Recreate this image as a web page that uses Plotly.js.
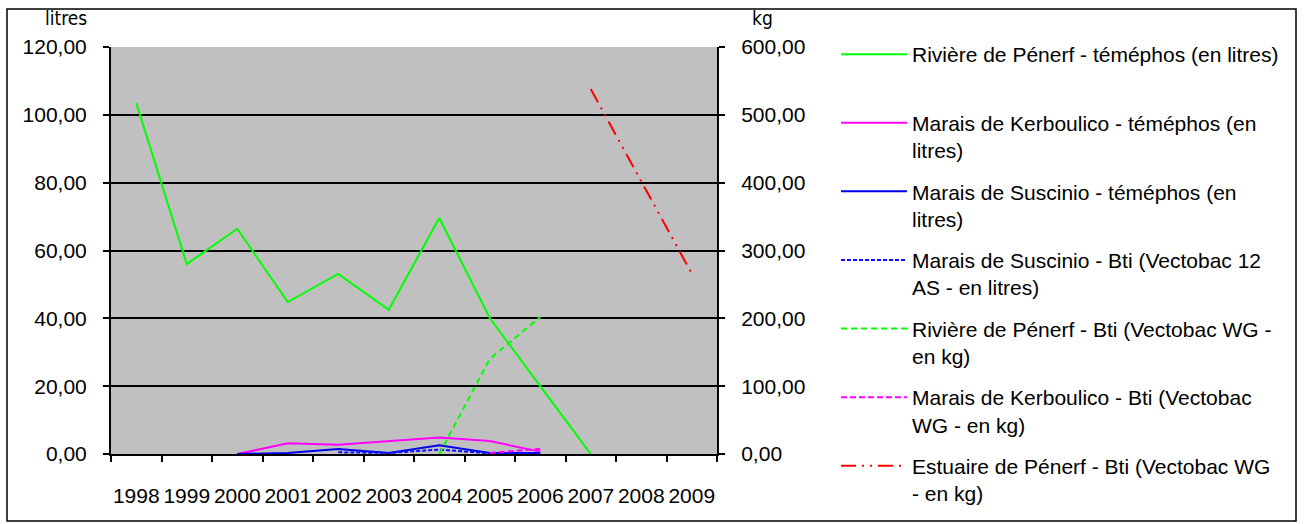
<!DOCTYPE html>
<html>
<head>
<meta charset="utf-8">
<script src="https://cdn.plot.ly/plotly-3.0.1.min.js"></script>
<style>html,body{margin:0;padding:0;background:#fff;}#chart{width:1309px;height:524px;}</style>
</head>
<body>
<div id="chart"></div>
<script>
var years = ['1998','1999','2000','2001','2002','2003','2004','2005','2006','2007','2008','2009'];
var penerfTemephos = [103.5, 56.0, 66.4, 44.8, 53.1, 42.5, 69.6, 40.1, 20.0, 0, null, null];
var kerbTemephos   = [null, null, 0, 3.2, 2.7, 3.8, 4.9, 3.8, 0.7, null, null, null];
var suscTemephos   = [null, null, 0, 0.3, 1.5, 0.3, 2.6, 0.3, 0.3, null, null, null];
var suscBti        = [null, null, null, null, 0.5, 0.3, 1.3, 0.2, 0.2, null, null, null];
var penerfBti      = [null, null, null, null, null, null, 0, 140, 202, null, null, null];
var kerbBti        = [null, null, null, null, null, null, null, 1.5, 7.5, null, null, null];
var estuaireBti    = [null, null, null, null, null, null, null, null, null, 538, 402, 266];

var names = [
  'Rivière de Pénerf - téméphos (en litres)<br> ',
  'Marais de Kerboulico - téméphos (en<br>litres)',
  'Marais de Suscinio - téméphos (en<br>litres)',
  'Marais de Suscinio - Bti (Vectobac 12<br>AS - en litres)',
  'Rivière de Pénerf - Bti (Vectobac WG -<br>en kg)',
  'Marais de Kerboulico - Bti (Vectobac<br>WG - en kg)',
  'Estuaire de Pénerf - Bti (Vectobac WG<br>- en kg)'
];

function tr(i, y, axis, color, dash) {
  return {
    x: years, y: y, type: 'scatter', mode: 'lines', name: names[i],
    yaxis: axis, legendgroup: 'g' + i, connectgaps: false,
    line: {color: color, width: 2, dash: dash}
  };
}

var data = [
  tr(0, penerfTemephos, 'y', '#00FF00', 'solid'),
  tr(1, kerbTemephos, 'y', '#FF00FF', 'solid'),
  tr(2, suscTemephos, 'y', '#0000EE', 'solid'),
  tr(3, suscBti, 'y', '#1010FF', '4px,2px'),
  tr(4, penerfBti, 'y2', '#00FF00', '6px,4px'),
  tr(5, kerbBti, 'y2', '#FF00FF', '6px,3px'),
  tr(6, estuaireBti, 'y2', '#FF0000', '15px,6px,2px,6px,2px,6px')
];

var font = {family: 'Liberation Sans, Arial, sans-serif', size: 21, color: '#000'};

var layout = {
  width: 1309, height: 524,
  margin: {l: 111, r: 592, t: 47, b: 70},
  paper_bgcolor: '#FFFFFF',
  plot_bgcolor: '#C0C0C0',
  font: font,
  separators: ', ',
  showlegend: true,
  xaxis: {
    type: 'category', range: [-0.5, 11.5], tickson: 'boundaries', tickangle: 0,
    ticks: 'outside', ticklen: 6, tickwidth: 2, tickcolor: '#000',
    showline: true, linecolor: '#000', linewidth: 2,
    showgrid: false, zeroline: false, ticklabelstandoff: 22,
    tickfont: font
  },
  yaxis: {
    range: [0, 120], dtick: 20, tickformat: '.2f',
    ticks: 'outside', ticklen: 6, tickwidth: 2, tickcolor: '#000',
    showline: true, linecolor: '#000', linewidth: 2,
    showgrid: true, gridcolor: '#000', gridwidth: 2, zeroline: false,
    ticklabelstandoff: 12, tickfont: font
  },
  yaxis2: {
    range: [0, 600], dtick: 100, tickformat: '.2f', overlaying: 'y', side: 'right',
    ticks: 'outside', ticklen: 6, tickwidth: 2, tickcolor: '#000',
    showline: true, linecolor: '#000', linewidth: 2,
    showgrid: false, zeroline: false, ticklabelstandoff: 12, tickfont: font
  },
  legend: {
    xref: 'container', yref: 'container', x: 836 / 1309, y: 1 - 34 / 524,
    xanchor: 'left', yanchor: 'top', bgcolor: 'rgba(0,0,0,0)',
    traceorder: 'grouped', tracegroupgap: 11, valign: 'top',
    itemwidth: 66, font: font, maxheight: 600
  },
  annotations: [
    {text: 'litres', xref: 'paper', yref: 'paper', x: (66 - 111) / 606, y: (454 - 18) / 407,
     showarrow: false, xanchor: 'center', yanchor: 'middle',
     font: {family: 'Liberation Sans Narrow, DejaVu Sans Condensed, sans-serif', size: 19, color: '#000'}},
    {text: 'kg', xref: 'paper', yref: 'paper', x: (762 - 111) / 606, y: (454 - 18) / 407,
     showarrow: false, xanchor: 'center', yanchor: 'middle',
     font: {family: 'Liberation Sans Narrow, DejaVu Sans Condensed, sans-serif', size: 19, color: '#000'}}
  ],
  shapes: [
    {type: 'rect', xref: 'paper', yref: 'paper',
     x0: (7 - 111) / 606, x1: (1296 - 111) / 606, y0: (454 - 521) / 407, y1: (454 - 9) / 407,
     line: {color: '#000', width: 1.5}, fillcolor: 'rgba(0,0,0,0)', layer: 'below'}
  ]
};

Plotly.newPlot('chart', data, layout, {staticPlot: true});
</script>
</body>
</html>
